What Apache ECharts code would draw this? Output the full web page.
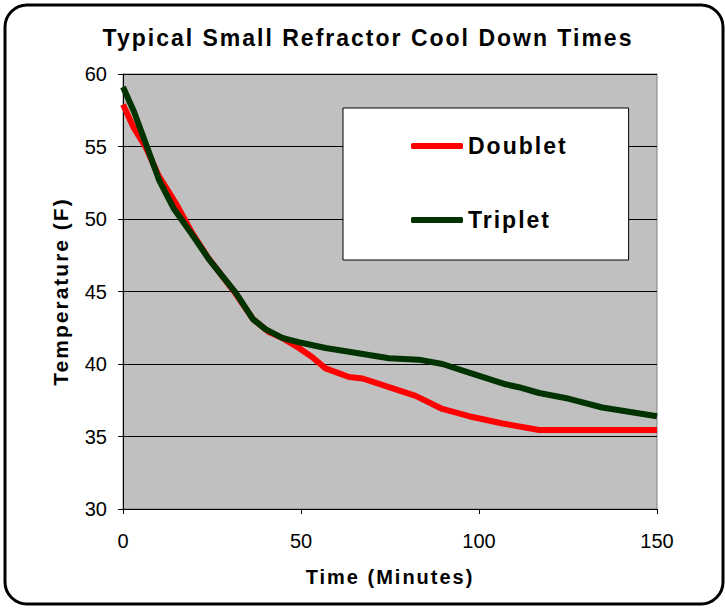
<!DOCTYPE html>
<html><head><meta charset="utf-8">
<script src="https://cdn.jsdelivr.net/npm/echarts@6/dist/echarts.min.js"></script>
<style>html,body{margin:0;padding:0;background:#fff}#c{width:725px;height:608px}
#c text[style*="bold"]{letter-spacing:2px}</style>
</head><body><div id="c"></div>
<script>
const doubletTime = [0, 3, 6.5, 10, 14.8, 19.5, 24, 31.5, 36.5, 41, 44.7, 49.4, 53, 56.9, 63.5, 67.3, 74.7, 82.2, 89.7, 97.2, 106.6, 116.9, 150];
const doubletTemp = [57.9, 56.3, 54.9, 53.0, 51.1, 49.0, 47.3, 44.9, 43.1, 42.2, 41.8, 41.1, 40.5, 39.7, 39.1, 39.0, 38.4, 37.8, 36.9, 36.4, 35.9, 35.45, 35.45];
const tripletTime = [0, 3.1, 6.4, 10.1, 14.3, 19.5, 24.2, 31.7, 36.5, 40, 44.7, 49.4, 56.9, 63.5, 74.7, 83.1, 89.7, 97.2, 107.5, 111.2, 116.9, 125.3, 134.6, 150];
const tripletTemp = [59.1, 57.4, 55.2, 52.7, 50.7, 48.9, 47.2, 44.9, 43.1, 42.4, 41.8, 41.5, 41.1, 40.85, 40.4, 40.3, 40.0, 39.4, 38.6, 38.4, 38.0, 37.6, 37.0, 36.4];
const seriesNames = ['Doublet', 'Triplet'];
const chartTitle = 'Typical Small Refractor Cool Down Times';
const xAxisTitle = 'Time (Minutes)';
const yAxisTitle = 'Temperature (F)';

const zip = (a, b) => a.map((v, i) => [v, b[i]]);
const chart = echarts.init(document.getElementById('c'), null, { renderer: 'svg' });
const F = 'Arial, "Liberation Sans", sans-serif';
chart.setOption({
  animation: false,
  backgroundColor: '#fff',
  title: { text: chartTitle, left: 363, top: 21, textAlign: 'center',
    textStyle: { fontFamily: F, fontSize: 23, fontWeight: 'bold', color: '#000' } },
  grid: { left: 123, top: 74, width: 534, height: 435, backgroundColor: '#c0c0c0', show: true, borderColor: '#808080', borderWidth: 1 },
  legend: {
    left: 343, top: 108,
    padding: [24, 75, 26, 68],
    orient: 'vertical', itemGap: 46, itemWidth: 52, itemHeight: 6,
    backgroundColor: '#fff', borderColor: '#000', borderWidth: 1,
    icon: 'roundRect',
    textStyle: { fontFamily: F, fontSize: 23, fontWeight: 'bold', color: '#000', lineHeight: 28 },
    data: seriesNames
  },
  xAxis: { type: 'value', min: 0, max: 150, interval: 50,
    name: xAxisTitle, nameLocation: 'middle', nameGap: 58,
    nameTextStyle: { fontFamily: F, fontSize: 20, fontWeight: 'bold', color: '#000' },
    axisLine: { lineStyle: { color: '#000', width: 1 } },
    axisTick: { show: true, length: 5, lineStyle: { color: '#000' } },
    axisLabel: { fontFamily: F, fontSize: 20, color: '#000', margin: 22 },
    splitLine: { show: false } },
  yAxis: { type: 'value', min: 30, max: 60, interval: 5,
    name: yAxisTitle, nameLocation: 'middle', nameGap: 52,
    nameTextStyle: { fontFamily: F, fontSize: 21, fontWeight: 'bold', color: '#000' },
    axisLine: { show: true, lineStyle: { color: '#000', width: 1 } },
    axisTick: { show: true, length: 5, lineStyle: { color: '#000' } },
    axisLabel: { fontFamily: F, fontSize: 20, color: '#000', margin: 16 },
    splitLine: { show: true, lineStyle: { color: '#000', width: 1 } } },
  graphic: [{ type: 'rect', shape: { x: 5, y: 5, width: 718, height: 599, r: 22 },
    style: { fill: 'none', stroke: '#000', lineWidth: 3 }, z: 100 }],
  series: [
    { name: seriesNames[0], type: 'line', data: zip(doubletTime, doubletTemp), showSymbol: false, symbol: 'none',
      lineStyle: { color: '#ff0000', width: 6 }, itemStyle: { color: '#ff0000' }, z: 2 },
    { name: seriesNames[1], type: 'line', data: zip(tripletTime, tripletTemp), showSymbol: false, symbol: 'none',
      lineStyle: { color: '#003300', width: 6 }, itemStyle: { color: '#003300' }, z: 3 }
  ]
});
</script></body></html>
